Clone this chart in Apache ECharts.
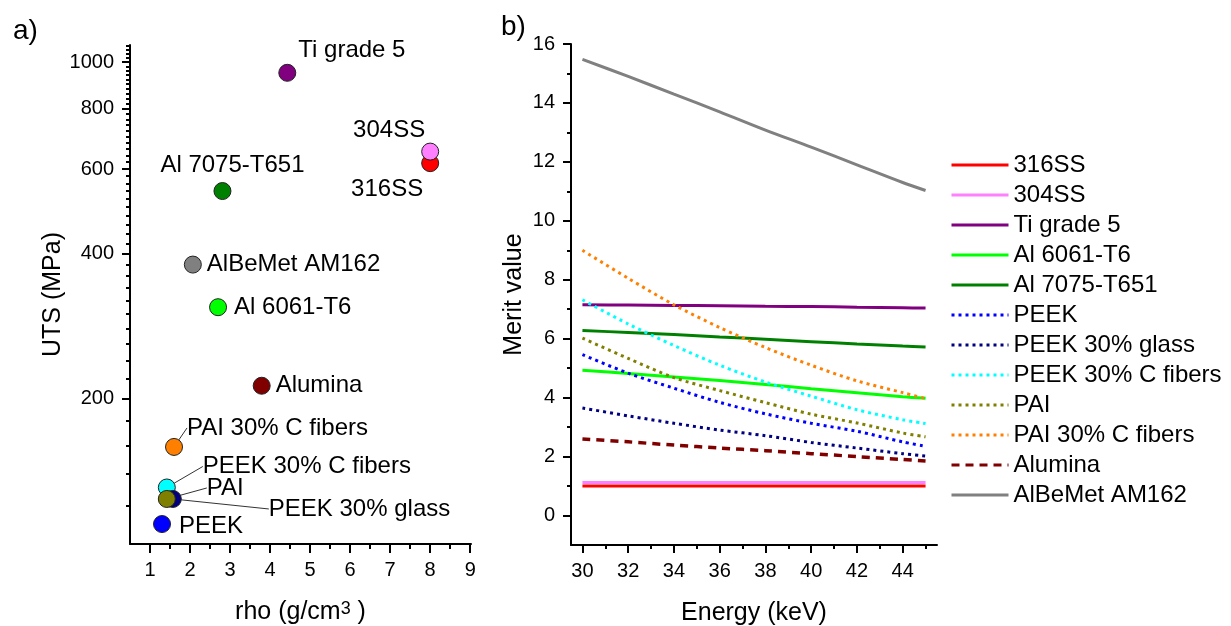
<!DOCTYPE html>
<html>
<head>
<meta charset="utf-8">
<title>UTS vs density / merit value</title>
<script src="https://cdn.jsdelivr.net/npm/echarts@6.0.0/dist/echarts.min.js"></script>
<style>
  html, body { margin: 0; padding: 0; background: #fff; }
  #main { width: 1231px; height: 626px; }
</style>
</head>
<body>
<div id="main"></div>
<script>
// a) UTS against density, one point per material (draw order matters for overlaps)
var materials = ['PEEK', 'PEEK 30% C fibers', 'PEEK 30% glass', 'PAI', 'PAI 30% C fibers', 'Alumina',
  'Al 6061-T6', 'AlBeMet AM162', 'Al 7075-T651', '316SS', '304SS', 'Ti grade 5']
var rho = [1.3, 1.42, 1.57, 1.42, 1.6, 3.79, 2.7, 2.07, 2.81, 8.0, 8.0, 4.43]
var uts = [110, 131, 124, 124, 159, 213, 310, 380, 540, 617, 652, 950]

var rhoTicks = [1, 2, 3, 4, 5, 6, 7, 8, 9]
var rhoMinorTicks = [1.5, 2.5, 3.5, 4.5, 5.5, 6.5, 7.5, 8.5]
var utsTicks = [200, 400, 600, 800, 1000]
var utsMinorTicks = []
for (var t = 120; t <= 1080; t += 20) {
  if (utsTicks.indexOf(t) < 0) utsMinorTicks.push(t)
}

// b) merit value against energy
var energy = [30, 32, 34, 36, 38, 40, 42, 44, 45]
var ss316 = [1.0, 1.0, 1.0, 1.0, 1.0, 1.0, 1.0, 1.0, 1.0]
var ss304 = [1.12, 1.12, 1.12, 1.12, 1.12, 1.12, 1.12, 1.12, 1.12]
var tiGrade5 = [7.15, 7.14, 7.13, 7.12, 7.1, 7.09, 7.07, 7.05, 7.04]
var al6061 = [4.93, 4.82, 4.7, 4.58, 4.45, 4.3, 4.17, 4.03, 3.98]
var al7075 = [6.28, 6.21, 6.14, 6.06, 5.98, 5.9, 5.82, 5.75, 5.72]
var peek = [5.46, 4.83, 4.32, 3.84, 3.45, 3.13, 2.86, 2.5, 2.35]
var peekGlass = [3.65, 3.38, 3.13, 2.9, 2.71, 2.48, 2.29, 2.1, 2.02]
var peekCF = [7.32, 6.5, 5.77, 5.1, 4.53, 4.05, 3.59, 3.25, 3.12]
var pai = [6.02, 5.33, 4.68, 4.24, 3.83, 3.44, 3.14, 2.8, 2.67]
var paiCF = [9.0, 8.05, 7.15, 6.38, 5.7, 5.1, 4.57, 4.17, 3.97]
var alumina = [2.6, 2.5, 2.39, 2.29, 2.2, 2.1, 2.0, 1.9, 1.85]
var albemet = [15.48, 14.9, 14.3, 13.7, 13.08, 12.5, 11.9, 11.3, 11.03]

var energyTicks = [30, 32, 34, 36, 38, 40, 42, 44]
var energyMinorTicks = [31, 33, 35, 37, 39, 41, 43, 45]
var meritTicks = [0, 2, 4, 6, 8, 10, 12, 14, 16]
var meritMinorTicks = [1, 3, 5, 7, 9, 11, 13, 15]

var colors = {
  '316SS': '#ff0000',
  '304SS': '#ff80ff',
  'Ti grade 5': '#800080',
  'Al 6061-T6': '#00ff00',
  'Al 7075-T651': '#008000',
  'PEEK': '#0000ff',
  'PEEK 30% glass': '#000080',
  'PEEK 30% C fibers': '#00ffff',
  'PAI': '#808000',
  'PAI 30% C fibers': '#ff8000',
  'Alumina': '#800000',
  'AlBeMet AM162': '#808080'
}

// label placement in panel a): [position, dx, dy, leader line]
var labelPlace = {
  'PEEK': ['right', 3, 2, false],
  'PEEK 30% C fibers': ['right', 22, -21, true],
  'PEEK 30% glass': ['right', 82, 10, true],
  'PAI': ['right', 26, -11, true],
  'PAI 30% C fibers': ['right', -1, -19, true],
  'Alumina': ['right', 0, 0, false],
  'Al 6061-T6': ['right', 2, 0, false],
  'AlBeMet AM162': ['right', 0, 0, false],
  'Al 7075-T651': ['top', 10, 0, false],
  '316SS': ['left', 7, 26, false],
  '304SS': ['left', 9, -21, false],
  'Ti grade 5': ['right', -3, -22, false]
}

var FONT = 'Liberation Sans, Arial, sans-serif'

// axis carrying the line, labels and name
function mainAxis(extra) {
  return Object.assign({
    splitLine: { show: false },
    axisTick: { show: false },
    axisLine: { show: true, onZero: false, lineStyle: { color: '#000', width: 2 } },
    nameTextStyle: { color: '#000', fontFamily: FONT, fontSize: 25 }
  }, extra)
}

// invisible twin axis that only draws tick marks
function tickAxis(gridIndex, type, min, max, ticks, position, len) {
  return {
    gridIndex: gridIndex, type: type, min: min, max: max, position: position,
    axisLine: { show: false, onZero: false },
    axisLabel: { show: false },
    splitLine: { show: false },
    axisTick: { show: true, customValues: ticks, length: len, lineStyle: { color: '#000', width: 2 } }
  }
}

var scatterData = materials.map(function (m, i) {
  var p = labelPlace[m]
  return {
    name: m,
    value: [rho[i], uts[i]],
    itemStyle: { color: colors[m] },
    label: { position: p[0] },
    labelLine: { show: p[3], lineStyle: { color: '#333', width: 1 } }
  }
})

var lineDefs = [
  ['316SS', ss316, 'solid'],
  ['304SS', ss304, 'solid'],
  ['Ti grade 5', tiGrade5, 'solid'],
  ['Al 6061-T6', al6061, 'solid'],
  ['Al 7075-T651', al7075, 'solid'],
  ['PEEK', peek, 'dot'],
  ['PEEK 30% glass', peekGlass, 'dot'],
  ['PEEK 30% C fibers', peekCF, 'dot'],
  ['PAI', pai, 'dot'],
  ['PAI 30% C fibers', paiCF, 'dot'],
  ['Alumina', alumina, 'dash'],
  ['AlBeMet AM162', albemet, 'solid']
]

var lineSeries = lineDefs.map(function (d) {
  var type = d[2] === 'dot' ? [3, 4] : d[2] === 'dash' ? [8, 6] : 'solid'
  return {
    name: d[0],
    type: 'line',
    xAxisIndex: 4,
    yAxisIndex: 4,
    symbol: 'none',
    smooth: 0.3,
    data: energy.map(function (e, i) { return [e, d[1][i]] }),
    lineStyle: { color: colors[d[0]], width: d[2] === 'dash' ? 3.5 : 3, type: type },
    itemStyle: { color: colors[d[0]] },
    z: d[0] === 'AlBeMet AM162' ? 3 : 2
  }
})

var chart = echarts.init(document.getElementById('main'))
var option = {
  animation: false,
  backgroundColor: '#fff',
  title: [
    { text: 'a)', left: 8, top: 12, textStyle: { fontFamily: FONT, fontSize: 28, fontWeight: 'normal', color: '#000' } },
    { text: 'b)', left: 496, top: 8, textStyle: { fontFamily: FONT, fontSize: 28, fontWeight: 'normal', color: '#000' } }
  ],
  grid: [
    { left: 130, top: 45, width: 341, height: 499, outerBoundsMode: 'none' },
    { left: 571, top: 44, width: 366, height: 501, outerBoundsMode: 'none' }
  ],
  legend: {
    orient: 'vertical',
    left: 950,
    top: 153,
    padding: 0,
    itemWidth: 57,
    itemHeight: 14,
    itemGap: 6,
    itemStyle: { color: 'rgba(0,0,0,0)', borderWidth: 0, opacity: 0 },
    lineStyle: { width: 3 },
    textStyle: { fontFamily: FONT, fontSize: 24, color: '#000' },
    data: lineDefs.map(function (d) { return d[0] })
  },
  xAxis: [
    mainAxis({
      gridIndex: 0, type: 'value', min: 0.5, max: 9.02, position: 'bottom',
      name: 'rho (g/cm{sup|3} )', nameLocation: 'middle', nameGap: 56,
      nameTextStyle: {
        color: '#000', fontFamily: FONT, fontSize: 25,
        rich: { sup: { fontFamily: FONT, fontSize: 18, color: '#000', verticalAlign: 'top' } }
      },
      axisLabel: { color: '#000', fontFamily: FONT, fontSize: 20, margin: 16, customValues: rhoTicks }
    }),
    tickAxis(0, 'value', 0.5, 9.02, rhoTicks, 'bottom', 9),
    tickAxis(0, 'value', 0.5, 9.02, rhoMinorTicks, 'bottom', 5),
    mainAxis({
      gridIndex: 1, type: 'value', min: 29.5, max: 45.5, position: 'bottom',
      name: 'Energy (keV)', nameLocation: 'middle', nameGap: 56,
      axisLabel: { color: '#000', fontFamily: FONT, fontSize: 20, margin: 16, customValues: energyTicks }
    }),
    tickAxis(1, 'value', 29.5, 45.5, energyTicks, 'bottom', 8),
    tickAxis(1, 'value', 29.5, 45.5, energyMinorTicks, 'bottom', 4)
  ],
  yAxis: [
    mainAxis({
      gridIndex: 0, type: 'log', min: 100, max: 1085, position: 'left',
      name: 'UTS (MPa)', nameLocation: 'middle', nameGap: 58,
      axisLabel: {
        color: '#000', fontFamily: FONT, fontSize: 20, margin: 16, customValues: utsTicks,
        formatter: function (v) { return String(Math.round(v)) }
      }
    }),
    tickAxis(0, 'log', 100, 1085, utsTicks, 'left', 8),
    tickAxis(0, 'log', 100, 1085, utsMinorTicks, 'left', 4),
    mainAxis({
      gridIndex: 1, type: 'value', min: -1, max: 16, position: 'left',
      name: 'Merit value', nameLocation: 'middle', nameGap: 44,
      axisLabel: { color: '#000', fontFamily: FONT, fontSize: 20, margin: 16, customValues: meritTicks }
    }),
    tickAxis(1, 'value', -1, 16, meritTicks, 'left', 8),
    tickAxis(1, 'value', -1, 16, meritMinorTicks, 'left', 4)
  ],
  series: [
    {
      name: 'UTS',
      type: 'scatter',
      xAxisIndex: 0,
      yAxisIndex: 0,
      symbolSize: 17,
      itemStyle: { borderColor: '#222', borderWidth: 1, opacity: 1 },
      label: {
        show: true,
        distance: 5,
        formatter: '{b}',
        color: '#000',
        fontFamily: FONT,
        fontSize: 24
      },
      labelLayout: function (p) {
        var c = labelPlace[materials[p.dataIndex]]
        return { dx: c[1], dy: c[2] }
      },
      data: scatterData
    }
  ].concat(lineSeries)
}
chart.setOption(option)
</script>
</body>
</html>
